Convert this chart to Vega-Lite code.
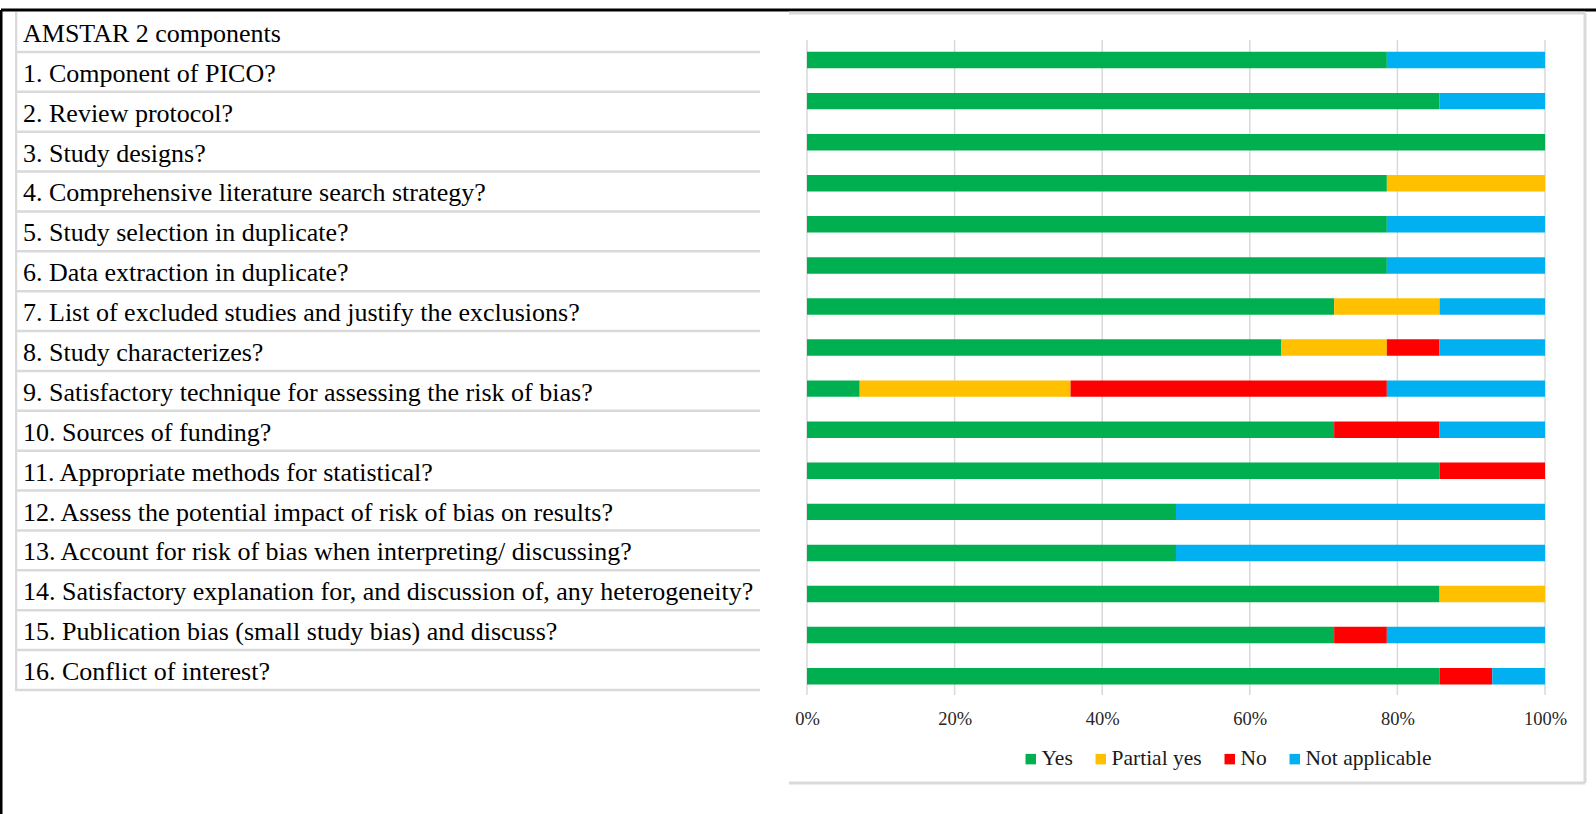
{
  "$schema": "https://vega.github.io/schema/vega-lite/v6.json",
  "width": 1595,
  "height": 804,
  "autosize": {"type": "none"},
  "padding": {"left": 1, "top": 10, "right": 0, "bottom": 0},
  "background": "white",
  "config": {"view": {"stroke": null}, "font": "Liberation Serif"},
  "datasets": {
    "items": [
      {"item": "AMSTAR 2 components"},
      {"item": "1. Component of PICO?"},
      {"item": "2. Review protocol?"},
      {"item": "\u00a03. Study designs?"},
      {"item": "4. Comprehensive literature search strategy?"},
      {"item": "5. Study selection in duplicate?"},
      {"item": "6. Data extraction in duplicate?"},
      {"item": "7. List of excluded studies and justify the exclusions?"},
      {"item": "8. Study characterizes?"},
      {"item": "9. Satisfactory technique for assessing the risk of bias?"},
      {"item": "10. Sources of funding?"},
      {"item": "11. Appropriate methods for statistical?"},
      {"item": "12. Assess the potential impact of risk of bias on results?"},
      {"item": "13. Account for risk of bias when interpreting/ discussing?"},
      {"item": "14. Satisfactory explanation for, and discussion of, any heterogeneity?"},
      {"item": "15. Publication bias (small study bias) and discuss?"},
      {"item": "16. Conflict of interest?"}
    ],
    "answers": [
      {"q": "Q1", "r": "Yes", "code": 1, "n": 11},
      {"q": "Q1", "r": "Not applicable", "code": 4, "n": 3},
      {"q": "Q2", "r": "Yes", "code": 1, "n": 12},
      {"q": "Q2", "r": "Not applicable", "code": 4, "n": 2},
      {"q": "Q3", "r": "Yes", "code": 1, "n": 14},
      {"q": "Q4", "r": "Yes", "code": 1, "n": 11},
      {"q": "Q4", "r": "Partial yes", "code": 2, "n": 3},
      {"q": "Q5", "r": "Yes", "code": 1, "n": 11},
      {"q": "Q5", "r": "Not applicable", "code": 4, "n": 3},
      {"q": "Q6", "r": "Yes", "code": 1, "n": 11},
      {"q": "Q6", "r": "Not applicable", "code": 4, "n": 3},
      {"q": "Q7", "r": "Yes", "code": 1, "n": 10},
      {"q": "Q7", "r": "Partial yes", "code": 2, "n": 2},
      {"q": "Q7", "r": "Not applicable", "code": 4, "n": 2},
      {"q": "Q8", "r": "Yes", "code": 1, "n": 9},
      {"q": "Q8", "r": "Partial yes", "code": 2, "n": 2},
      {"q": "Q8", "r": "No", "code": 3, "n": 1},
      {"q": "Q8", "r": "Not applicable", "code": 4, "n": 2},
      {"q": "Q9", "r": "Yes", "code": 1, "n": 1},
      {"q": "Q9", "r": "Partial yes", "code": 2, "n": 4},
      {"q": "Q9", "r": "No", "code": 3, "n": 6},
      {"q": "Q9", "r": "Not applicable", "code": 4, "n": 3},
      {"q": "Q10", "r": "Yes", "code": 1, "n": 10},
      {"q": "Q10", "r": "No", "code": 3, "n": 2},
      {"q": "Q10", "r": "Not applicable", "code": 4, "n": 2},
      {"q": "Q11", "r": "Yes", "code": 1, "n": 12},
      {"q": "Q11", "r": "No", "code": 3, "n": 2},
      {"q": "Q12", "r": "Yes", "code": 1, "n": 7},
      {"q": "Q12", "r": "Not applicable", "code": 4, "n": 7},
      {"q": "Q13", "r": "Yes", "code": 1, "n": 7},
      {"q": "Q13", "r": "Not applicable", "code": 4, "n": 7},
      {"q": "Q14", "r": "Yes", "code": 1, "n": 12},
      {"q": "Q14", "r": "Partial yes", "code": 2, "n": 2},
      {"q": "Q15", "r": "Yes", "code": 1, "n": 10},
      {"q": "Q15", "r": "No", "code": 3, "n": 1},
      {"q": "Q15", "r": "Not applicable", "code": 4, "n": 3},
      {"q": "Q16", "r": "Yes", "code": 1, "n": 12},
      {"q": "Q16", "r": "No", "code": 3, "n": 1},
      {"q": "Q16", "r": "Not applicable", "code": 4, "n": 1}
    ],
    "ticks": [{"v": 0}, {"v": 0.2}, {"v": 0.4}, {"v": 0.6}, {"v": 0.8}, {"v": 1}],
    "frame": [{"part": "chart area"}],
    "page": [{"part": "page border"}]
  },
  "layer": [
    {
      "data": {"name": "page"},
      "encoding": {
        "x": {"datum": 0, "type": "quantitative", "scale": {"domain": [0, 1], "range": [0, 1595]}, "axis": null},
        "y": {"datum": 0, "type": "quantitative", "scale": {"domain": [0, 1], "range": [0, 804]}, "axis": null}
      },
      "layer": [
        {"mark": {"type": "rule", "color": "#000000", "strokeWidth": 3}, "encoding": {"x2": {"datum": 1}}},
        {"mark": {"type": "rule", "color": "#000000", "strokeWidth": 3}, "encoding": {"y2": {"datum": 1}}}
      ]
    },
    {
      "data": {"name": "frame"},
      "encoding": {
        "x": {"datum": 0, "type": "quantitative", "scale": {"domain": [0, 1], "range": [788, 1584]}, "axis": null},
        "y": {"datum": 0, "type": "quantitative", "scale": {"domain": [0, 1], "range": [3, 773]}, "axis": null}
      },
      "layer": [
        {"mark": {"type": "rule", "color": "#d9d9d9", "strokeWidth": 3}, "encoding": {"x2": {"datum": 1}}},
        {"mark": {"type": "rule", "color": "#d9d9d9", "strokeWidth": 3}, "encoding": {"x": {"datum": 1, "type": "quantitative"}, "y2": {"datum": 1}}},
        {"mark": {"type": "rule", "color": "#d9d9d9", "strokeWidth": 3}, "encoding": {"y": {"datum": 1, "type": "quantitative"}, "x2": {"datum": 1}}}
      ]
    },
    {
      "data": {"name": "items"},
      "encoding": {
        "y": {"field": "item", "type": "nominal", "sort": null, "scale": {"range": [2, 680], "paddingInner": 0, "paddingOuter": 0}, "axis": null}
      },
      "layer": [
        {
          "mark": {"type": "rect", "color": "#d9d9d9"},
          "encoding": {
            "x": {"datum": 0, "type": "quantitative", "scale": {"domain": [0, 1], "range": [14, 759]}, "axis": null},
            "x2": {"datum": 0.003}
          }
        },
        {
          "mark": {"type": "rule", "color": "#d9d9d9", "strokeWidth": 2.5},
          "encoding": {
            "y": {"field": "item", "type": "nominal", "sort": null, "bandPosition": 1},
            "x": {"datum": 0, "type": "quantitative"},
            "x2": {"datum": 1}
          }
        },
        {
          "mark": {"type": "text", "align": "left", "baseline": "middle", "dx": 8, "dy": 2, "font": "Liberation Serif", "fontSize": 26, "color": "#000000"},
          "encoding": {
            "x": {"datum": 0, "type": "quantitative"},
            "text": {"field": "item"}
          }
        }
      ]
    },
    {
      "data": {"name": "ticks"},
      "mark": {"type": "rule", "color": "#d9d9d9", "strokeWidth": 1.5},
      "encoding": {
        "x": {"field": "v", "type": "quantitative", "scale": {"domain": [0, 1], "range": [806, 1544]}, "axis": null},
        "y": {"datum": 0, "type": "quantitative", "scale": {"domain": [0, 1], "range": [30, 685]}, "axis": null},
        "y2": {"datum": 1}
      }
    },
    {
      "data": {"name": "answers"},
      "mark": {"type": "bar"},
      "encoding": {
        "y": {"field": "q", "type": "nominal", "sort": null, "scale": {"range": [29.5, 686.7], "paddingInner": 0.6, "paddingOuter": 0.3}, "axis": null},
        "x": {
          "field": "n", "type": "quantitative", "stack": "normalize",
          "scale": {"domain": [0, 1], "range": [806, 1544]},
          "axis": {"orient": "bottom", "values": [0, 0.2, 0.4, 0.6, 0.8, 1], "format": ".0%", "grid": false, "domain": false, "ticks": false, "tickSize": 0, "labelPadding": 0, "offset": -105, "labelFont": "Liberation Serif", "labelFontSize": 18.5, "labelColor": "#262626", "labelFlush": false, "labelOverlap": false, "title": null}
        },
        "color": {
          "field": "r", "type": "nominal",
          "sort": ["Yes", "Partial yes", "No", "Not applicable"],
          "scale": {"domain": ["Yes", "Partial yes", "No", "Not applicable"], "range": ["#00B050", "#FFC000", "#FF0000", "#00B0F0"]},
          "legend": {"orient": "none", "legendX": 1019, "legendY": 738, "direction": "horizontal", "title": null, "symbolType": "square", "symbolSize": 110, "symbolStrokeWidth": 0, "labelFont": "Liberation Serif", "labelFontSize": 21.5, "labelColor": "#1a1a1a", "labelOffset": 0, "columnPadding": 17}
        },
        "order": {"field": "code", "type": "quantitative"}
      }
    }
  ],
  "resolve": {"scale": {"x": "independent", "y": "independent"}}
}
